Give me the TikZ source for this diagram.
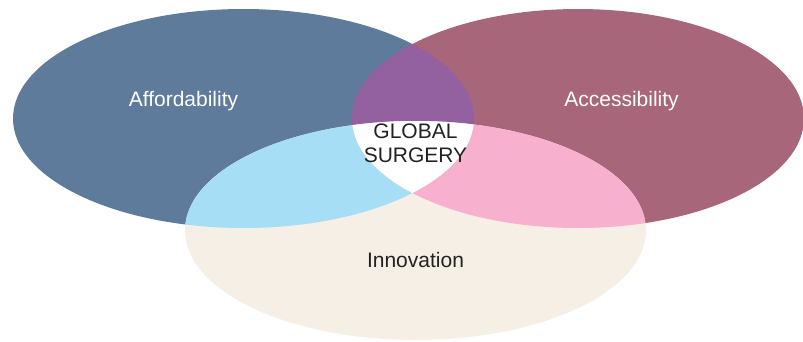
\documentclass[tikz,border=0pt]{standalone}
\usepackage{fontspec}
\setmainfont{Liberation Sans}
\definecolor{cafford}{HTML}{5F7B9B}
\definecolor{caccess}{HTML}{A8667A}
\definecolor{cinnov}{HTML}{F6EFE6}
\definecolor{cpurple}{HTML}{9461A0}
\definecolor{cblue}{HTML}{A6DFF5}
\definecolor{cpink}{HTML}{F8B0CF}
\definecolor{ctext}{HTML}{222222}
\begin{document}
\begin{tikzpicture}[x=1pt,y=-1pt,
  lbl/.style={font=\fontsize{21}{24}\selectfont, align=center, inner sep=0pt}]
\useasboundingbox (0,0) rectangle (803,341);
\def\afford{(243.5,118.5) ellipse [x radius=230.5, y radius=109.5]}
\def\access{(578,118.5) ellipse [x radius=226, y radius=109.5]}
\def\innov{(415.5,230.5) ellipse [x radius=230.5, y radius=109.5]}
\fill[cafford] \afford;
\fill[caccess] \access;
\fill[cinnov] \innov;
\begin{scope}
  \clip \afford;
  \fill[cpurple] \access;
  \fill[cblue] \innov;
\end{scope}
\begin{scope}
  \clip \access;
  \fill[cpink] \innov;
  \clip \afford;
  \fill[white] \innov;
\end{scope}
\node[lbl, text=white] (aff) at (183.5,101) {Affordability};
\node[lbl, text=white] (acc) at (621.5,101) {Accessibility};
\node[lbl, text=ctext] (inn) at (415.5,260) {Innovation};
\node[lbl, text=ctext] (gs) at (415.5,143) {GLOBAL\\SURGERY};
\end{tikzpicture}
\end{document}
